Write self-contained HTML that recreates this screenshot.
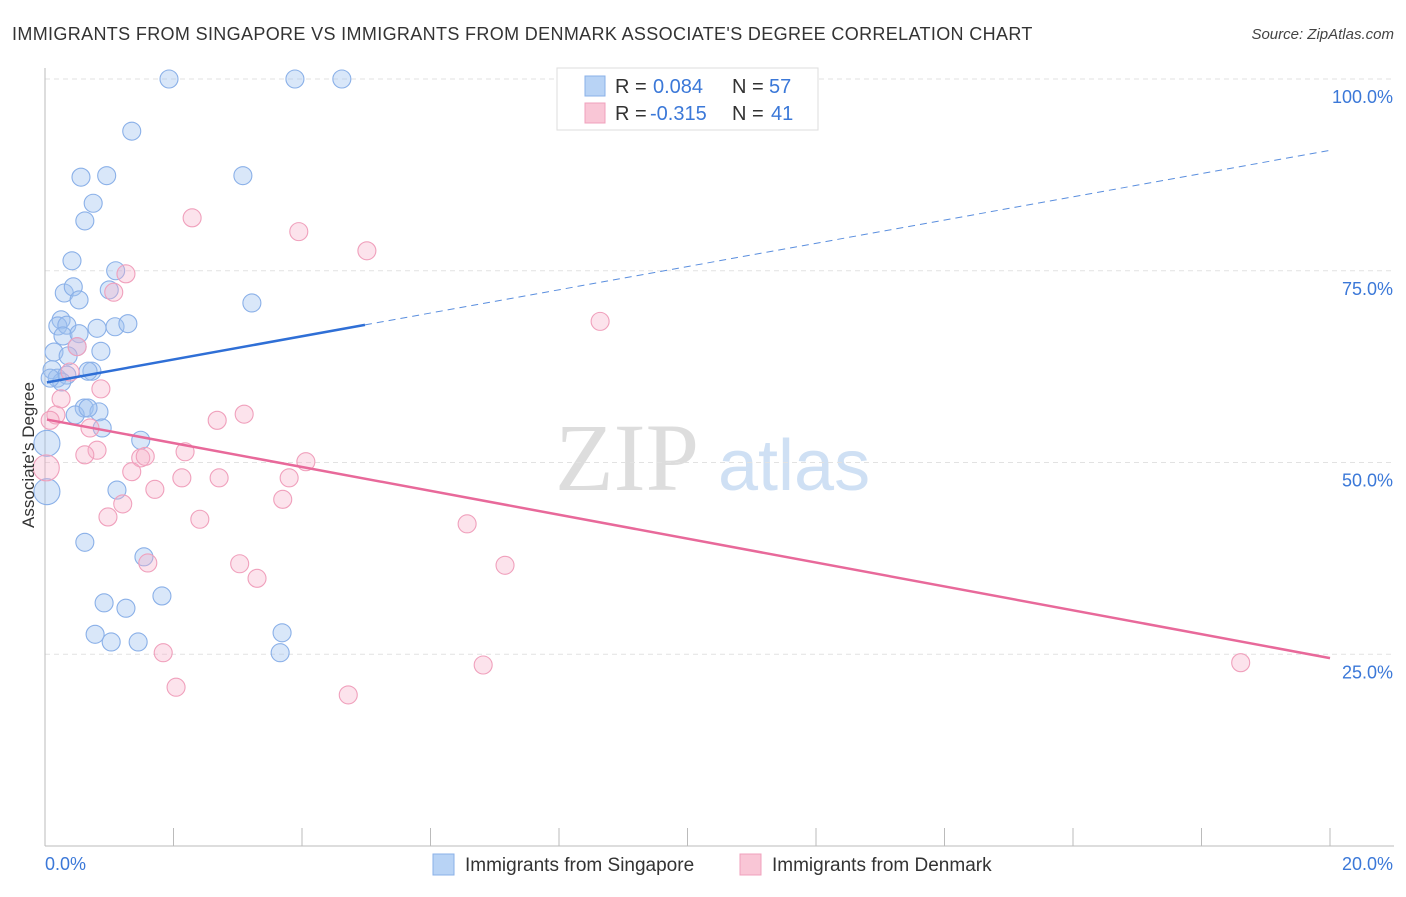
<!DOCTYPE html>
<html><head><meta charset="utf-8">
<style>
body{margin:0;background:#fff;font-family:"Liberation Sans",sans-serif;}
svg text{font-family:"Liberation Sans",sans-serif;}
</style></head>
<body>
<svg id="chart" width="1406" height="892" xmlns="http://www.w3.org/2000/svg">
<text x="12" y="40" font-size="18" fill="#333" letter-spacing="0.35">IMMIGRANTS FROM SINGAPORE VS IMMIGRANTS FROM DENMARK ASSOCIATE'S DEGREE CORRELATION CHART</text>
<text x="1394" y="39" font-size="15" fill="#444" text-anchor="end" font-style="italic">Source: ZipAtlas.com</text>
<text x="555" y="490" font-size="96" fill="#ddd" font-family="Liberation Serif" style="font-family:'Liberation Serif',serif">ZIP</text>
<text x="718" y="490" font-size="72" fill="#cfe0f4">atlas</text>
<g id="grid"></g>
<g id="axes"></g>
<g id="marks"></g>
<text transform="translate(34,455) rotate(-90)" font-size="17" fill="#333" text-anchor="middle">Associate's Degree</text>
<g>
<rect x="557" y="68" width="261" height="62" fill="#fff" stroke="#ddd"/>
<rect x="585" y="76" width="20" height="20" fill="#b8d3f5" stroke="#8ab0e8"/>
<rect x="585" y="103" width="20" height="20" fill="#f9c6d6" stroke="#f0a0bc"/>
<text x="615" y="93" font-size="20" fill="#333">R =</text><text x="653" y="93" font-size="20" fill="#3b78d8">0.084</text>
<text x="732" y="93" font-size="20" fill="#333">N =</text><text x="769" y="93" font-size="20" fill="#3b78d8">57</text>
<text x="615" y="120" font-size="20" fill="#333">R =</text><text x="650" y="120" font-size="20" fill="#3b78d8">-0.315</text>
<text x="732" y="120" font-size="20" fill="#333">N =</text><text x="771" y="120" font-size="20" fill="#3b78d8">41</text>
</g>
<g>
<rect x="433" y="854" width="21" height="21" fill="#b8d3f5" stroke="#8ab0e8"/>
<text x="465" y="871" font-size="19" fill="#333">Immigrants from Singapore</text>
<rect x="740" y="854" width="21" height="21" fill="#f9c6d6" stroke="#f0a0bc"/>
<text x="772" y="871" font-size="19" fill="#333">Immigrants from Denmark</text>
</g>
</svg>
<script>
const blueX=[1.93,3.89,4.62,1.35,0.56,0.96,3.08,0.75,0.62,0.42,1.10,0.30,0.44,0.53,1.00,3.22,0.25,0.20,0.34,0.81,1.09,1.29,0.28,0.53,0.50,0.87,0.14,0.36,0.11,0.19,0.34,0.73,0.26,0.67,0.61,0.47,0.84,0.67,0.89,1.49,0.03,0.03,1.12,0.62,1.54,1.82,0.92,1.26,0.78,1.03,1.45,3.69,3.66,0.08];
const blueY=[100,100,100,93.2,87.2,87.4,87.4,83.8,81.5,76.3,75.0,72.1,72.9,71.2,72.5,70.8,68.6,67.8,67.9,67.5,67.7,68.1,66.5,66.8,65.1,64.5,64.4,63.9,62.1,61.0,61.4,61.9,60.5,61.9,57.1,56.2,56.6,57.1,54.5,52.9,52.5,46.2,46.4,39.6,37.7,32.6,31.7,31.0,27.6,26.6,26.6,27.8,25.2,61.0];
const blueBig=[40,41];
const pinkX=[2.29,3.95,5.01,1.26,1.07,8.64,0.50,0.39,0.17,0.25,0.87,2.68,3.10,0.70,0.08,0.02,0.81,0.62,1.49,1.56,2.18,4.06,1.35,2.13,2.71,3.80,1.71,3.70,1.21,0.98,2.41,6.57,1.60,3.03,3.30,7.16,1.84,2.04,6.82,4.72,18.61];
const pinkY=[81.9,80.1,77.6,74.6,72.2,68.4,65.1,61.8,56.2,58.3,59.6,55.5,56.3,54.5,55.5,49.3,51.6,51.0,50.6,50.8,51.4,50.1,48.8,48.0,48.0,48.0,46.5,45.2,44.6,42.9,42.6,42.0,36.9,36.8,34.9,36.6,25.2,20.7,23.6,19.7,23.9];
const pinkBig=[15];
const yTicks=[25,50,75,100];
const yTickLabels=["25.0%","50.0%","75.0%","100.0%"];
const xTicks=[0,2,4,6,8,10,12,14,16,18,20];
const blueTrend=[60.4,90.7];
const blueSolidEnd=4.98;
const pinkTrend=[55.6,24.5];

const NS="http://www.w3.org/2000/svg";
const sx=v=>45+v/20*1285;
const sy=v=>846-v*7.67;
function mk(tag,attrs,parent){const e=document.createElementNS(NS,tag);for(const k in attrs)e.setAttribute(k,attrs[k]);parent.appendChild(e);return e;}
const grid=document.getElementById('grid'),axes=document.getElementById('axes'),marks=document.getElementById('marks');
yTicks.forEach((t,i)=>{
  const l=mk('line',{x1:45,x2:1394,y1:sy(t),y2:sy(t),stroke:'#e2e2e2','stroke-dasharray':'5,4'},grid);
  
  
  const tx=mk('text',{x:1393,y:sy(t)+24,'font-size':18,fill:'#3b78d8','text-anchor':'end'},axes);
  tx.textContent=yTickLabels[i];
  
  
});
const ax=mk('line',{x1:45,x2:1394,y1:846,y2:846,stroke:'#bbb'},axes);


const ay=mk('line',{x1:45,x2:45,y1:68,y2:846,stroke:'#bbb'},axes);


xTicks.forEach(t=>{
  const l=mk('line',{x1:sx(t),x2:sx(t),y1:828,y2:846,stroke:'#bbb'},axes);
  
  
});
const x0=mk('text',{x:45,y:870,'font-size':18,fill:'#3b78d8'},axes);x0.textContent='0.0%';


const x1=mk('text',{x:1393,y:870,'font-size':18,fill:'#3b78d8','text-anchor':'end'},axes);x1.textContent='20.0%';



function pts(X,Y,big,fill,stroke,name){
  X.forEach((x,i)=>{
    const c=mk('circle',{cx:sx(x),cy:sy(Y[i]),r:big.includes(i)?13:9,fill:fill,stroke:stroke,'stroke-width':1.1},marks);
    
    
  });
}
pts(blueX,blueY,blueBig,'rgba(160,195,240,0.4)','#8ab0e8','singapore-point');
pts(pinkX,pinkY,pinkBig,'rgba(245,175,200,0.35)','#f0a0bc','denmark-point');
const bAt=x=>blueTrend[0]+(blueTrend[1]-blueTrend[0])*x/20;
const bs=mk('line',{x1:sx(0.03),y1:sy(bAt(0.03)),x2:sx(blueSolidEnd),y2:sy(bAt(blueSolidEnd)),stroke:'#2f6fd6','stroke-width':2.5},marks);


const bd=mk('line',{x1:sx(blueSolidEnd),y1:sy(bAt(blueSolidEnd)),x2:sx(20),y2:sy(blueTrend[1]),stroke:'#5a8ede','stroke-width':1,'stroke-dasharray':'7,5'},marks);


const pt=mk('line',{x1:sx(0.03),y1:sy(pinkTrend[0]),x2:sx(20),y2:sy(pinkTrend[1]),stroke:'#e8699a','stroke-width':2.5},marks);


</script>
</body></html>
